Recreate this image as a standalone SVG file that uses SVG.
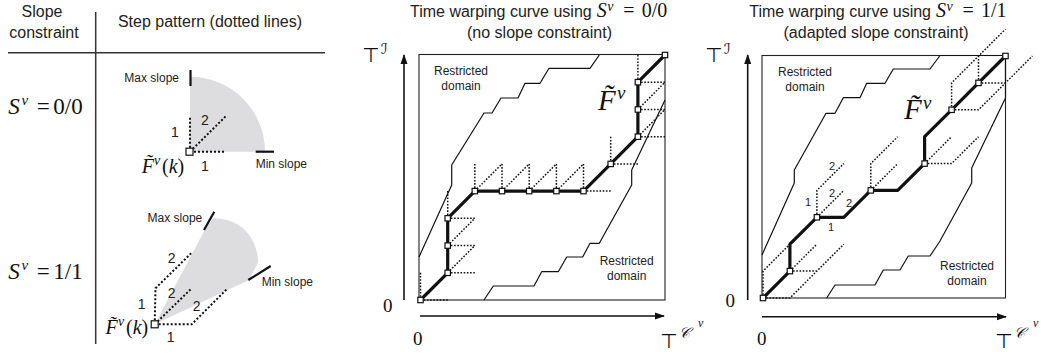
<svg xmlns="http://www.w3.org/2000/svg" width="1041" height="354" viewBox="0 0 1041 354">
<style>
.sans{font-family:"Liberation Sans",Arial,sans-serif;fill:#222}
.t16{font-size:16px}
.t12{font-size:12px}
.t14{font-size:14px}
.t11{font-size:11px}
.m{font-family:"Liberation Serif","Times New Roman",serif;fill:#111}
.it{font-style:italic}
.sym{font-family:"DejaVu Sans",sans-serif;fill:#111}
.rule{stroke:#333;stroke-width:1.5;fill:none}
.box{stroke:#222;stroke-width:1.1;fill:none}
.bound{stroke:#111;stroke-width:1.2;fill:none;stroke-linejoin:round}
.path{stroke:#111;stroke-width:3.2;fill:none;stroke-linejoin:round}
.dot{stroke:#111;stroke-width:1.5;fill:none;stroke-dasharray:1.6 1.6}
.dotL{stroke:#111;stroke-width:2;fill:none;stroke-dasharray:2 2}
.axis{stroke:#111;stroke-width:1.6;fill:none}
.lim{stroke:#111;stroke-width:2.2}
.gray{fill:#dddddf}
.sq{fill:#fff;stroke:#111;stroke-width:1.2}
</style>
<defs>
<marker id="ah" viewBox="0 0 10 10" refX="9" refY="5" markerWidth="10" markerHeight="10" markerUnits="userSpaceOnUse" orient="auto">
<path d="M0,1.5 L10,5 L0,8.5 Z" fill="#111"/>
</marker>
<rect id="sq" x="-2.7" y="-2.7" width="5.4" height="5.4" class="sq"/>
<rect id="sqL" x="-3.5" y="-3.5" width="7" height="7" class="sq"/>
</defs>

<g id="left-table">
<text class="sans t16" x="42" y="17" text-anchor="middle">Slope</text>
<text class="sans t16" x="44" y="38" text-anchor="middle">constraint</text>
<text class="sans t16" x="210" y="27" text-anchor="middle">Step pattern (dotted lines)</text>
<line class="rule" x1="95.7" y1="12" x2="95.7" y2="344"/>
<line class="rule" x1="8" y1="52.7" x2="325" y2="52.7"/>

<text class="m" font-size="23" y="114"><tspan class="it" x="8.3">S</tspan><tspan class="it" x="21.5" y="105" font-size="15">v</tspan><tspan x="36.7" y="114">=</tspan><tspan x="53.3">0/0</tspan></text>
<text class="m" font-size="23" y="279"><tspan class="it" x="8.3">S</tspan><tspan class="it" x="21.5" y="270" font-size="15">v</tspan><tspan x="36.7" y="279">=</tspan><tspan x="53.3">1/1</tspan></text>
</g>

<g id="pattern-0-0">
<path class="gray" d="M190,151.7 L190,76.7 A75,75 0 0 1 265,151.7 Z"/>
<line class="lim" x1="190.5" y1="70" x2="190.5" y2="86"/>
<line class="lim" x1="255.7" y1="151.7" x2="274" y2="151.7"/>
<text class="sans t12" x="179" y="82" text-anchor="end">Max slope</text>
<text class="sans t12" x="255.7" y="168">Min slope</text>
<line class="dotL" x1="190" y1="151.7" x2="190" y2="116"/>
<line class="dotL" x1="190" y1="151.7" x2="226" y2="116"/>
<line class="dotL" x1="190" y1="151.7" x2="226" y2="151.7"/>
<use href="#sqL" x="189.5" y="151.7"/>
<text class="sans t14" x="175" y="136.7" text-anchor="middle">1</text>
<text class="sans t14" x="205" y="125" text-anchor="middle">2</text>
<text class="sans t14" x="205" y="170.7" text-anchor="middle">1</text>
<text class="m" font-size="20" y="172.7"><tspan class="it" x="141.7">F&#x0303;</tspan><tspan class="it" x="154" y="165" font-size="14">v</tspan><tspan x="162" y="172.7">(</tspan><tspan class="it">k</tspan><tspan>)</tspan></text>
</g>

<g id="pattern-1-1">
<path class="gray" d="M154.7,324.3 L204.7,230 L213,218.3 C238,218.5 256,233 258.3,262 L249,280 Z"/>
<line class="lim" x1="204" y1="230" x2="214.3" y2="211.7"/>
<line class="lim" x1="248.3" y1="280" x2="270.7" y2="266"/>
<text class="sans t12" x="202.3" y="221.7" text-anchor="end">Max slope</text>
<text class="sans t12" x="261.7" y="286">Min slope</text>
<polyline class="dotL" points="154.7,324.3 155.5,288.3 191.7,252.7"/>
<line class="dotL" x1="154.7" y1="324.3" x2="191.7" y2="288.3"/>
<polyline class="dotL" points="154.7,324.3 191.7,324.3 227.7,288.3"/>
<use href="#sqL" x="154.7" y="324.3"/>
<text class="sans t14" x="171.7" y="263.3" text-anchor="middle">2</text>
<text class="sans t14" x="141.7" y="309" text-anchor="middle">1</text>
<text class="sans t14" x="171.7" y="298.3" text-anchor="middle">2</text>
<text class="sans t14" x="196.7" y="311" text-anchor="middle">2</text>
<text class="sans t14" x="170.7" y="341.7" text-anchor="middle">1</text>
<text class="m" font-size="20" y="334"><tspan class="it" x="105.5">F&#x0303;</tspan><tspan class="it" x="118" y="326.3" font-size="14">v</tspan><tspan x="126" y="334">(</tspan><tspan class="it">k</tspan><tspan>)</tspan></text>
</g>

<g id="plot-no-constraint">
<text class="sans t16" y="17.3"><tspan x="410">Time warping curve using</tspan></text>
<text class="m" font-size="20" y="17.3"><tspan class="it" x="596.7">S</tspan><tspan class="it" x="607.3" y="10.5" font-size="14">v</tspan><tspan x="623.3" y="17.3">=</tspan><tspan x="641.7">0/0</tspan></text>
<text class="sans t16" x="539.5" y="37.5" text-anchor="middle">(no slope constraint)</text>

<rect class="box" x="419" y="54.5" width="246" height="245.5"/>
<polyline class="bound" points="419,257 451.7,185 451.7,165 484,113 492,113 501,98 518,98 525,83.3 540,83.3 549,68.3 590,68.3 599.3,55"/>
<polyline class="bound" points="484,300 493.3,286 534,286 541.7,271.7 558.3,271.7 566.7,257 582.7,257 590,243.3 599.3,243.3 631.7,185 631.7,170 665,100"/>
<text class="sans t12" x="461" y="75" text-anchor="middle">Restricted</text>
<text class="sans t12" x="461" y="90" text-anchor="middle">domain</text>
<text class="sans t12" x="626.7" y="265" text-anchor="middle">Restricted</text>
<text class="sans t12" x="626.7" y="280" text-anchor="middle">domain</text>

<g id="steps-0-0">
<path class="dot" d="M420.5,300V272.8 M420.5,300H447.7
M447.7,272.8H474.8 M447.7,272.8L474.8,245.6
M447.7,245.6H474.8 M447.7,245.6L474.8,218.3
M447.7,218.3H474.8 M447.7,218.3V191.1
M474.8,191.1V163.9 M474.8,191.1L502,163.9
M502,191.1V163.9 M502,191.1L529.2,163.9
M529.2,191.1V163.9 M529.2,191.1L556.4,163.9
M556.4,191.1V163.9 M556.4,191.1L583.5,163.9
M583.5,191.1V163.9 M583.5,191.1H610.7
M610.7,163.9V136.7 M610.7,163.9H637.9
M637.9,136.7H665 M637.9,136.7L665,109.5
M637.9,109.5H665 M637.9,109.5L665,82.2
M637.9,82.2H665 M637.9,82.2V55"/>
</g>
<polyline class="path" points="420.5,300 447.7,272.8 447.7,245.6 447.7,218.3 474.8,191.1 502,191.1 529.2,191.1 556.4,191.1 583.5,191.1 610.7,163.9 637.9,136.7 637.9,109.5 637.9,82.2 665,55"/>
<g id="nodes-0-0">
<use href="#sq" x="420.5" y="300"/><use href="#sq" x="447.7" y="272.8"/><use href="#sq" x="447.7" y="245.6"/><use href="#sq" x="447.7" y="218.3"/><use href="#sq" x="474.8" y="191.1"/><use href="#sq" x="502" y="191.1"/><use href="#sq" x="529.2" y="191.1"/><use href="#sq" x="556.4" y="191.1"/><use href="#sq" x="583.5" y="191.1"/><use href="#sq" x="610.7" y="163.9"/><use href="#sq" x="637.9" y="136.7"/><use href="#sq" x="637.9" y="109.5"/><use href="#sq" x="637.9" y="82.2"/><use href="#sq" x="665" y="55"/>
</g>
<text class="m" font-size="29" y="110"><tspan class="it" x="598">F&#x0303;</tspan><tspan class="it" x="617" y="99" font-size="19">v</tspan></text>

<line class="axis" x1="404" y1="300" x2="404" y2="55" marker-end="url(#ah)"/>
<line class="axis" x1="420" y1="316" x2="664" y2="316" marker-end="url(#ah)"/>
<text class="sym" font-size="20" x="362" y="62">&#x22A4;</text>
<text class="sym" font-size="15" x="381" y="54" font-style="italic">&#x2110;</text>
<text class="m" font-size="19" x="383" y="311.7">0</text>
<text class="m" font-size="19" x="413" y="345">0</text>
<text class="sym" font-size="20" x="660" y="348">&#x22A4;</text>
<text class="m" font-size="15" x="679" y="338"><tspan class="it">&#x1D49E;</tspan></text>
<text class="m it" font-size="12" x="698" y="327">v</text>
</g>

<g id="plot-adapted">
<text class="sans t16" y="17.3"><tspan x="749.3">Time warping curve using</tspan></text>
<text class="m" font-size="20" y="17.3"><tspan class="it" x="936">S</tspan><tspan class="it" x="946.6" y="10.5" font-size="14">v</tspan><tspan x="962.6" y="17.3">=</tspan><tspan x="981">1/1</tspan></text>
<text class="sans t16" x="876" y="37.5" text-anchor="middle">(adapted slope constraint)</text>

<rect class="box" x="762" y="55.5" width="243.5" height="242.5"/>
<polyline class="bound" points="762,255 794.3,183 794.3,170 826,113.3 835,113.3 843.3,97.7 860,97.7 866.7,83.3 885,83.3 893.3,69 930,69 940,55.5 1005.5,55.5"/>
<polyline class="bound" points="826.7,298 835,285 875,285 883.3,270 900,270 908.3,256 930,256 940,241 971.7,183 971.7,168 1005.5,98 1005.5,56"/>
<text class="sans t12" x="805" y="76" text-anchor="middle">Restricted</text>
<text class="sans t12" x="805" y="90.7" text-anchor="middle">domain</text>
<text class="sans t12" x="967" y="270" text-anchor="middle">Restricted</text>
<text class="sans t12" x="967" y="285" text-anchor="middle">domain</text>

<g id="steps-1-1">
<path class="dot" d="M763,298V271.1L789.9,244.2 M763,298H789.9L843.8,244.2
M789.9,271.1L816.9,244.2 M789.9,271.1H816.9
M816.9,217.3V190.4L843.8,163.6 M816.9,217.3L843.8,190.4
M870.8,190.4V163.6L897.7,136.7 M870.8,190.4L897.7,163.6
M924.6,163.6L951.6,136.7 M924.6,163.6H951.6L978.5,136.7
M951.6,109.8V82.9L1005.5,29.1 M951.6,109.8H978.5L1032.4,56
M978.5,82.9V56 M978.5,82.9H1005.5"/>
</g>
<polyline class="path" points="763,298 789.9,271.1 789.9,244.2 816.9,217.3 843.8,217.3 870.8,190.4 897.7,190.4 924.6,163.6 924.6,136.7 951.6,109.8 978.5,82.9 1005.5,56"/>
<g id="nodes-1-1">
<use href="#sq" x="763" y="298"/><use href="#sq" x="789.9" y="271.1"/><use href="#sq" x="816.9" y="217.3"/><use href="#sq" x="870.8" y="190.4"/><use href="#sq" x="924.6" y="163.6"/><use href="#sq" x="951.6" y="109.8"/><use href="#sq" x="978.5" y="82.9"/><use href="#sq" x="1005.5" y="56"/>
</g>
<text class="sans t11" x="808" y="206" text-anchor="middle">1</text>
<text class="sans t11" x="832" y="170" text-anchor="middle">2</text>
<text class="sans t11" x="832" y="197" text-anchor="middle">2</text>
<text class="sans t11" x="849" y="207" text-anchor="middle">2</text>
<text class="sans t11" x="831" y="231" text-anchor="middle">1</text>
<text class="m" font-size="29" y="119.3"><tspan class="it" x="904">F&#x0303;</tspan><tspan class="it" x="923" y="108.5" font-size="19">v</tspan></text>

<line class="axis" x1="747.7" y1="300" x2="747.7" y2="55" marker-end="url(#ah)"/>
<line class="axis" x1="762" y1="316.7" x2="1006" y2="316.7" marker-end="url(#ah)"/>
<text class="sym" font-size="20" x="995" y="348">&#x22A4;</text>
<text class="sym" font-size="20" x="705" y="62">&#x22A4;</text>
<text class="sym" font-size="15" x="724" y="54" font-style="italic">&#x2110;</text>
<text class="m" font-size="19" x="725.5" y="306.7">0</text>
<text class="m" font-size="19" x="757" y="345">0</text>
<text class="m" font-size="15" x="1014" y="338"><tspan class="it">&#x1D49E;</tspan></text>
<text class="m it" font-size="12" x="1033" y="327">v</text>
</g>
</svg>
